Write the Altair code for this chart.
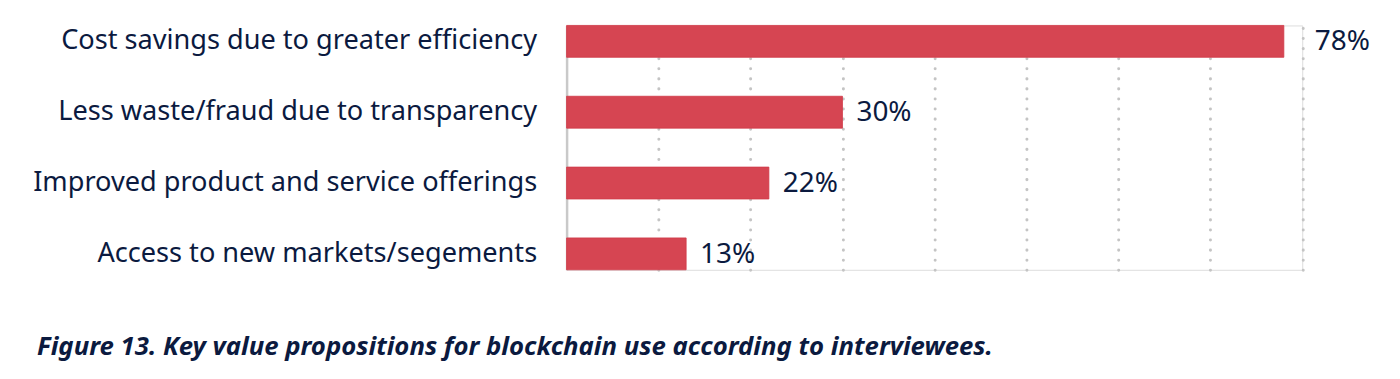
import altair as alt
import pandas as pd

categories = [
    "Cost savings due to greater efficiency",
    "Less waste/fraud due to transparency",
    "Improved product and service offerings",
    "Access to new markets/segements",
]
values = [78, 30, 22, 13]
caption = "Figure 13. Key value propositions for blockchain use according to interviewees."

df = pd.DataFrame({"category": categories, "value": values})

NAVY = "#0b1a3f"
FONT = "Noto Sans"

y_enc = alt.Y("category:N", sort=categories, title=None,
              scale=alt.Scale(paddingInner=0.55, paddingOuter=0),
              axis=alt.Axis(domain=True, domainColor="#c9c9c9", domainWidth=2.5,
                            ticks=False, grid=False, labelFont=FONT, labelFontSize=27.2,
                            labelColor=NAVY, labelPadding=30, labelLimit=600))
x_enc = alt.X("value:Q", title=None,
              scale=alt.Scale(domain=[0, 80], nice=False, zero=True),
              axis=alt.Axis(labels=False, ticks=False, domain=False, grid=True,
                            values=[10, 20, 30, 40, 50, 60, 70, 80],
                            gridColor="#c4c4c4", gridWidth=3, gridDash=[0.1, 10],
                            gridCap="round"))

bars = alt.Chart(df).mark_bar(color="#d64552", stroke="#d13a48", strokeWidth=0.8).encode(x=x_enc, y=y_enc)

base_text = alt.Chart(df).transform_calculate(label="datum.value + '%'")
txt_small = base_text.transform_filter("datum.value < 70").mark_text(
    align="left", baseline="middle", dx=14, dy=1, font=FONT, fontSize=28, color=NAVY
).encode(x="value:Q", y=alt.Y("category:N", sort=categories), text="label:N")
txt_big = base_text.transform_filter("datum.value >= 70").mark_text(
    align="left", baseline="middle", dx=31, dy=1, font=FONT, fontSize=28, color=NAVY
).encode(x="value:Q", y=alt.Y("category:N", sort=categories), text="label:N")

chart = alt.layer(bars, txt_small, txt_big).properties(
    width=737.5, height=245,
    autosize=alt.AutoSizeParams(type="none"),
    padding={"left": 560, "top": 17, "right": 90, "bottom": 109},
    title=alt.TitleParams(caption, orient="bottom", anchor="start", frame="group",
                          font=FONT, fontSize=25.8, fontWeight="bold", fontStyle="italic",
                          color=NAVY, dx=-531, offset=85, baseline="alphabetic"),
).configure_view(stroke=None).configure(background="white")

chart.save("out.html", embed_options={"renderer": "svg", "actions": False})
